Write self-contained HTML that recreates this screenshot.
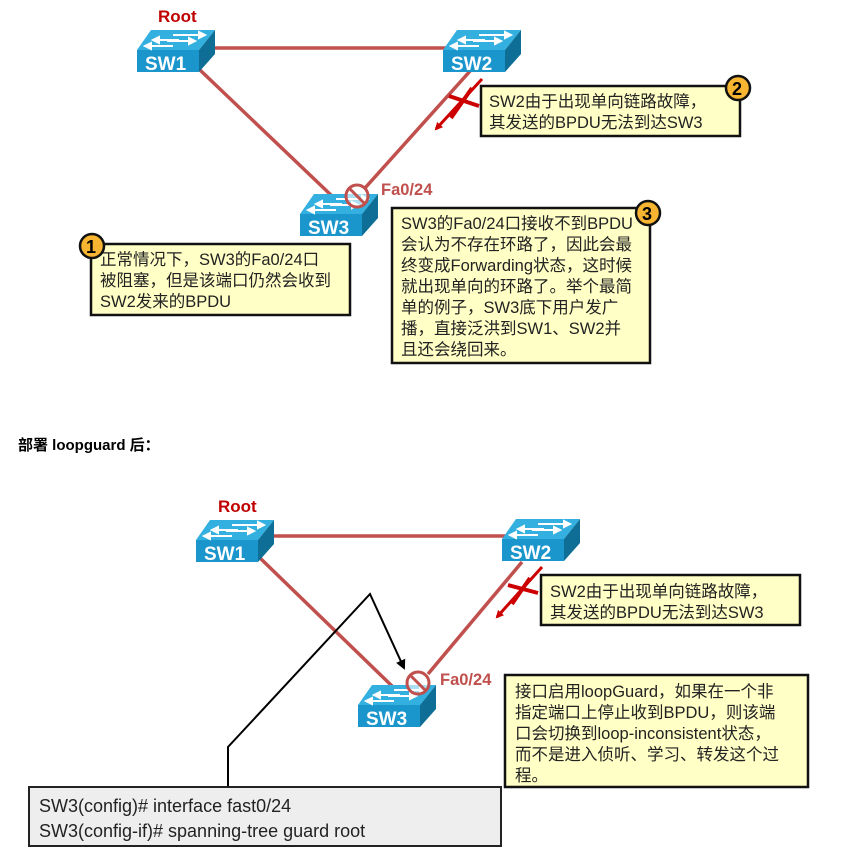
<!DOCTYPE html>
<html><head><meta charset="utf-8"><style>
html,body{margin:0;padding:0;background:#fff;}
svg{display:block;}
text{font-family:"Liberation Sans","Noto Sans CJK SC",sans-serif;}
.box{fill:#ffffc6;stroke:#111;stroke-width:2.5;}
.bt{font-size:16.5px;fill:#222;}
.link{stroke:#c0504d;stroke-width:3.5;fill:none;}
</style></head><body>
<svg width="847" height="854" viewBox="0 0 847 854" xmlns="http://www.w3.org/2000/svg">
<defs>
<g id="sw">
  <polygon points="14,0 78,0 62,20 0,20" fill="#33b0e0"/>
  <rect x="0" y="20" width="62" height="22" fill="#1a96cc"/>
  <polygon points="62,20 78,0 78,24 62,42" fill="#0e6e96"/>
  <g stroke="#fff" stroke-width="2" fill="#fff">
    <line x1="36" y1="5" x2="62" y2="5"/><polygon points="62,2 68,5 62,8"/>
    <line x1="22" y1="10" x2="42" y2="10"/><polygon points="22,7 16,10 22,13"/>
    <line x1="30" y1="11" x2="52" y2="11"/><polygon points="52,8 58,11 52,14"/>
    <line x1="14" y1="16" x2="36" y2="16"/><polygon points="14,13 8,16 14,19"/>
  </g>
</g>
<g id="blk">
  <circle cx="0" cy="0" r="11" fill="#fff" fill-opacity="0.6" stroke="#c0504d" stroke-width="3"/>
  <line x1="-8" y1="-8" x2="8" y2="8" stroke="#c0504d" stroke-width="3"/>
</g>
<marker id="ah" markerWidth="8" markerHeight="8" refX="6" refY="4" orient="auto" markerUnits="userSpaceOnUse"><path d="M0,0 L8,4 L0,8 z" fill="#c00"/></marker>
<marker id="ab" markerWidth="10" markerHeight="10" refX="8" refY="5" orient="auto" markerUnits="userSpaceOnUse"><path d="M0,0 L10,5 L0,10 z" fill="#000"/></marker>
</defs>

<!-- TOP DIAGRAM -->
<line class="link" x1="212" y1="48" x2="446" y2="48"/>
<line class="link" x1="200" y1="70" x2="332" y2="196"/>
<line class="link" x1="471" y1="70" x2="365" y2="188"/>
<text x="158" y="22" font-size="17" font-weight="bold" fill="#c00000">Root</text>
<use href="#sw" x="137" y="30"/><text x="145" y="70" font-size="19" font-weight="bold" fill="#fff">SW1</text>
<use href="#sw" x="443" y="30"/><text x="451" y="70" font-size="19" font-weight="bold" fill="#fff">SW2</text>
<use href="#sw" x="300" y="194"/><text x="308" y="234" font-size="19" font-weight="bold" fill="#fff">SW3</text>
<use href="#blk" x="357" y="196"/>
<text x="381" y="195" font-size="16.5" font-weight="bold" fill="#c0504d">Fa0/24</text>
<line x1="482" y1="79" x2="436" y2="129" stroke="#c00" stroke-width="3" marker-end="url(#ah)"/>
<line x1="451" y1="118" x2="472" y2="88" stroke="#c00" stroke-width="4"/>
<line x1="449" y1="96" x2="479" y2="106" stroke="#c00" stroke-width="4"/>

<rect class="box" x="481" y="86" width="259" height="50"/>
<text class="bt" x="489" y="107">SW2由于出现单向链路故障，</text>
<text class="bt" x="489" y="128">其发送的BPDU无法到达SW3</text>
<circle cx="738" cy="88" r="12" fill="#f7b531" stroke="#111" stroke-width="2.5"/><text x="732" y="95" font-size="18" font-weight="bold">2</text>

<rect class="box" x="392" y="208" width="258" height="155"/>
<g class="bt">
<text x="401" y="229">SW3的Fa0/24口接收不到BPDU</text>
<text x="401" y="250">会认为不存在环路了，因此会最</text>
<text x="401" y="271">终变成Forwarding状态，这时候</text>
<text x="401" y="292">就出现单向的环路了。举个最简</text>
<text x="401" y="313">单的例子，SW3底下用户发广</text>
<text x="401" y="334">播，直接泛洪到SW1、SW2并</text>
<text x="401" y="355">且还会绕回来。</text>
</g>
<circle cx="648" cy="213" r="12" fill="#f7b531" stroke="#111" stroke-width="2.5"/><text x="642" y="220" font-size="18" font-weight="bold">3</text>

<rect class="box" x="91" y="244" width="259" height="71"/>
<g class="bt">
<text x="100" y="265">正常情况下，SW3的Fa0/24口</text>
<text x="100" y="286">被阻塞，但是该端口仍然会收到</text>
<text x="100" y="307">SW2发来的BPDU</text>
</g>
<circle cx="92" cy="246" r="12" fill="#f7b531" stroke="#111" stroke-width="2.5"/><text x="86" y="253" font-size="18" font-weight="bold">1</text>

<text x="18" y="450" font-size="15" font-weight="bold" fill="#000">部署 loopguard 后：</text>

<!-- BOTTOM DIAGRAM -->
<line class="link" x1="272" y1="536" x2="506" y2="536"/>
<line class="link" x1="260" y1="558" x2="392" y2="686"/>
<line class="link" x1="522" y1="562" x2="428" y2="674"/>
<text x="218" y="512" font-size="17" font-weight="bold" fill="#c00000">Root</text>
<use href="#sw" x="196" y="520"/><text x="204" y="560" font-size="19" font-weight="bold" fill="#fff">SW1</text>
<use href="#sw" x="502" y="519"/><text x="510" y="559" font-size="19" font-weight="bold" fill="#fff">SW2</text>
<use href="#sw" x="358" y="685"/><text x="366" y="725" font-size="19" font-weight="bold" fill="#fff">SW3</text>
<use href="#blk" x="418" y="683"/>
<text x="440" y="685" font-size="16.5" font-weight="bold" fill="#c0504d">Fa0/24</text>
<line x1="542" y1="567" x2="497" y2="617" stroke="#c00" stroke-width="3" marker-end="url(#ah)"/>
<line x1="512" y1="604" x2="530" y2="578" stroke="#c00" stroke-width="4"/>
<line x1="508" y1="585" x2="538" y2="593" stroke="#c00" stroke-width="4"/>

<polyline points="228,788 228,747 370,594 404,668" fill="none" stroke="#000" stroke-width="2" marker-end="url(#ab)"/>

<rect class="box" x="541" y="575" width="259" height="50"/>
<text class="bt" x="550" y="597">SW2由于出现单向链路故障，</text>
<text class="bt" x="550" y="618">其发送的BPDU无法到达SW3</text>

<rect class="box" x="505" y="675" width="303" height="112"/>
<g class="bt">
<text x="515" y="697">接口启用loopGuard，如果在一个非</text>
<text x="515" y="718">指定端口上停止收到BPDU，则该端</text>
<text x="515" y="739">口会切换到loop-inconsistent状态，</text>
<text x="515" y="760">而不是进入侦听、学习、转发这个过</text>
<text x="515" y="781">程。</text>
</g>

<rect x="29" y="787" width="472" height="59" fill="#eeeeee" stroke="#222" stroke-width="2"/>
<text x="39" y="812" font-size="18" fill="#222">SW3(config)# interface fast0/24</text>
<text x="39" y="837" font-size="18" fill="#222">SW3(config-if)# spanning-tree guard root</text>
</svg>
</body></html>
